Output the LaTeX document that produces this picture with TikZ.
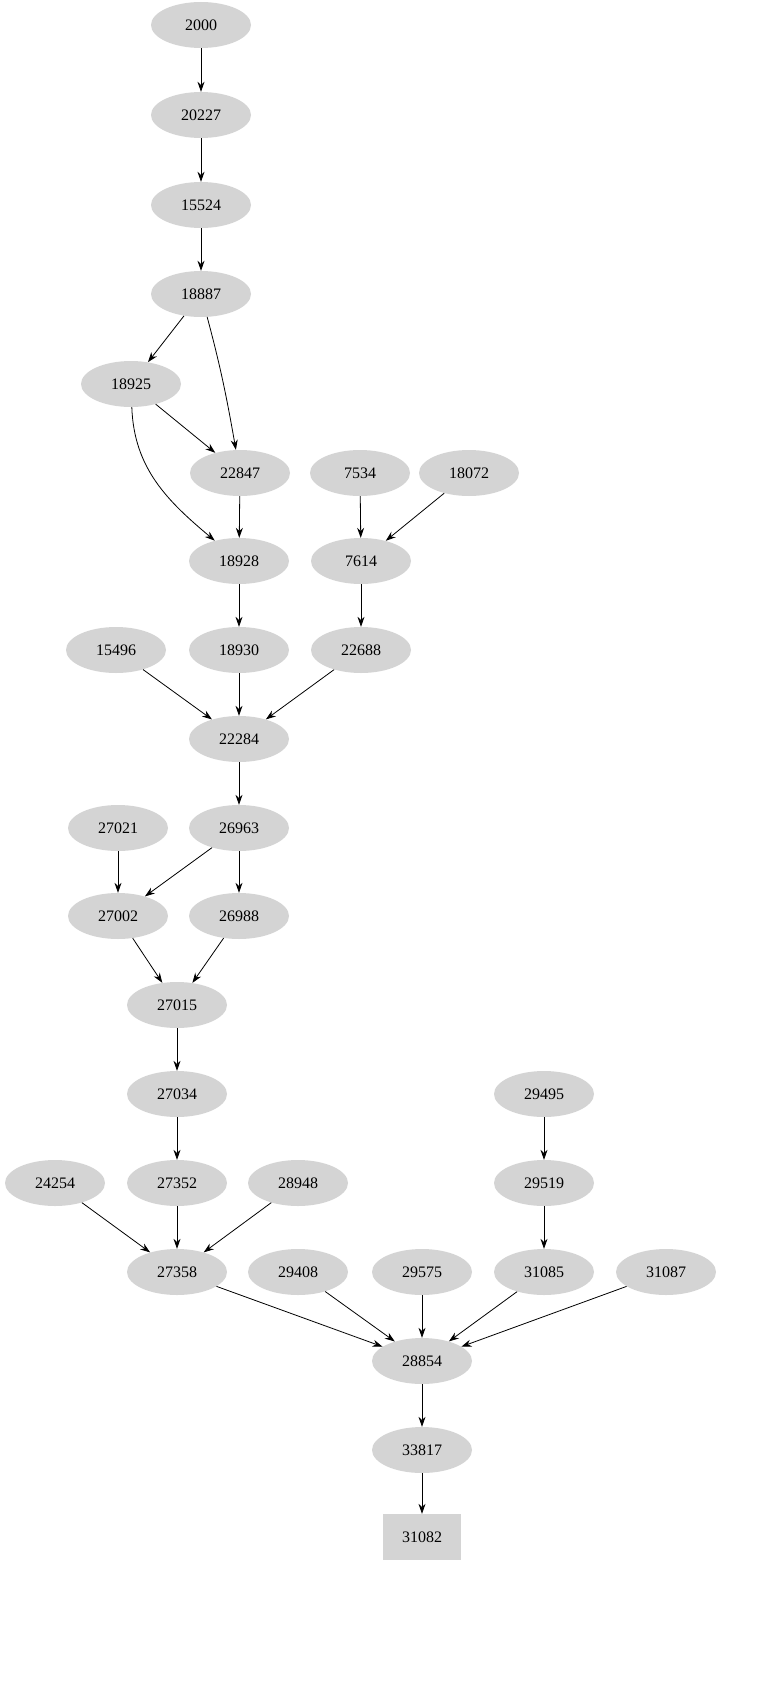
\documentclass[tikz,border=0pt]{standalone}
\usepackage{fontspec}
\setmainfont{Liberation Serif}
\usetikzlibrary{shapes.geometric,arrows.meta}
\begin{document}
\begin{tikzpicture}[x=1pt,y=-1pt,
 nd/.style={ellipse,fill=black!17,minimum width=100pt,minimum height=46pt,inner sep=0pt,font=\fontsize{16}{18}\selectfont},
 bx/.style={rectangle,fill=black!17,minimum width=78pt,minimum height=46pt,inner sep=0pt,font=\fontsize{16}{18}\selectfont},
 ar/.style={-{Stealth[length=10pt,width=7pt]},line width=0.8pt}]
\useasboundingbox (0,0) rectangle (778,1691);
\foreach \n/\x/\y in {2000/201/25,20227/201/115,15524/201/205,18887/201/294,18925/131/384,22847/240/473,7534/360/473,18072/469/473,18928/239/561,7614/361/561,15496/116/650,18930/239/650,22688/361/650,22284/239/739,27021/118/828,26963/239/828,27002/118/916,26988/239/916,27015/177/1005,27034/177/1094,29495/544/1094,24254/55/1183,27352/177/1183,28948/298/1183,29519/544/1183,27358/177/1272,29408/298/1272,29575/422/1272,31085/544/1272,31087/666/1272,28854/422/1361,33817/422/1450}
  \node[nd] (n\n) at (\x,\y) {\n};
\node[bx] (n31082) at (422,1537) {31082};
\draw[ar] (n2000)--(n20227);
\draw[ar] (n20227)--(n15524);
\draw[ar] (n15524)--(n18887);
\draw[ar] (n18887)--(n18925);
\draw[ar] (n18887) to[out=-75,in=100] (n22847);
\draw[ar] (n18925)--(n22847);
\draw[ar] (n18925) to[out=-88,in=140] (n18928);
\draw[ar] (n22847)--(n18928);
\draw[ar] (n7534)--(n7614);
\draw[ar] (n18072)--(n7614);
\draw[ar] (n18928)--(n18930);
\draw[ar] (n7614)--(n22688);
\draw[ar] (n15496)--(n22284);
\draw[ar] (n18930)--(n22284);
\draw[ar] (n22688)--(n22284);
\draw[ar] (n22284)--(n26963);
\draw[ar] (n27021)--(n27002);
\draw[ar] (n26963)--(n27002);
\draw[ar] (n26963)--(n26988);
\draw[ar] (n27002)--(n27015);
\draw[ar] (n26988)--(n27015);
\draw[ar] (n27015)--(n27034);
\draw[ar] (n27034)--(n27352);
\draw[ar] (n29495)--(n29519);
\draw[ar] (n29519)--(n31085);
\draw[ar] (n24254)--(n27358);
\draw[ar] (n27352)--(n27358);
\draw[ar] (n28948)--(n27358);
\draw[ar] (n27358)--(n28854);
\draw[ar] (n29408)--(n28854);
\draw[ar] (n29575)--(n28854);
\draw[ar] (n31085)--(n28854);
\draw[ar] (n31087)--(n28854);
\draw[ar] (n28854)--(n33817);
\draw[ar] (n33817)--(n31082);
\end{tikzpicture}
\end{document}
